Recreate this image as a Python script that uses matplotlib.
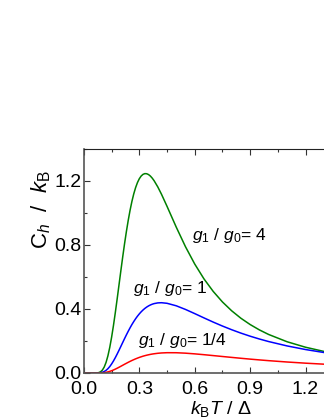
import matplotlib
matplotlib.use("Agg")
import matplotlib.pyplot as plt
from matplotlib.ticker import MultipleLocator

plt.rcParams['font.family'] = ['Liberation Sans', 'DejaVu Sans']
plt.rcParams['mathtext.fontset'] = 'custom'
plt.rcParams['mathtext.rm'] = 'Liberation Sans'
plt.rcParams['mathtext.it'] = 'Liberation Sans:italic'

# k_B T / Delta
temp = [0.0, 0.03, 0.05, 0.07, 0.08, 0.09, 0.10, 0.11, 0.12, 0.13, 0.14, 0.15,
        0.16, 0.17, 0.18, 0.19, 0.20, 0.21, 0.22, 0.23, 0.24, 0.25, 0.26, 0.27,
        0.28, 0.29, 0.30, 0.31, 0.32, 0.33, 0.34, 0.35, 0.36, 0.37, 0.38, 0.40,
        0.42, 0.45, 0.50, 0.55, 0.60, 0.65, 0.70, 0.75, 0.80, 0.85, 0.90, 0.95,
        1.00, 1.10, 1.20, 1.30]

# C_h / k_B for g1/g0 = 4
c_ratio4 = [0.0, 0.0, 0.0, 0.0005, 0.0023, 0.0074, 0.0182, 0.0373, 0.0667, 0.1076,
            0.1603, 0.2240, 0.2970, 0.3774, 0.4627, 0.5508, 0.6389, 0.7250, 0.8076,
            0.8842, 0.9546, 1.0176, 1.0730, 1.1200, 1.1591, 1.1904, 1.2143, 1.2311,
            1.2415, 1.2461, 1.2454, 1.2401, 1.2307, 1.2178, 1.2019, 1.1630, 1.1173,
            1.0417, 0.9115, 0.7891, 0.6810, 0.5883, 0.5100, 0.4441, 0.3888, 0.3422,
            0.3029, 0.2694, 0.2409, 0.1953, 0.1610, 0.1347]

# g1/g0 = 1
c_ratio1 = [0.0, 0.0, 0.0, 0.0001, 0.0006, 0.0018, 0.0045, 0.0093, 0.0167, 0.0270,
            0.0403, 0.0565, 0.0751, 0.0959, 0.1184, 0.1420, 0.1662, 0.1906, 0.2148,
            0.2383, 0.2610, 0.2826, 0.3030, 0.3218, 0.3393, 0.3552, 0.3695, 0.3824,
            0.3937, 0.4036, 0.4121, 0.4193, 0.4252, 0.4300, 0.4337, 0.4381, 0.4392,
            0.4356, 0.4200, 0.3972, 0.3712, 0.3444, 0.3182, 0.2935, 0.2705, 0.2493,
            0.2300, 0.2125, 0.1966, 0.1692, 0.1466, 0.1280]

# g1/g0 = 1/4
c_ratio14 = [0.0, 0.0, 0.0, 0.0, 0.0001, 0.0005, 0.0011, 0.0023, 0.0042, 0.0068,
             0.0101, 0.0141, 0.0189, 0.0241, 0.0298, 0.0358, 0.0420, 0.0483, 0.0546,
             0.0607, 0.0668, 0.0726, 0.0782, 0.0834, 0.0884, 0.0930, 0.0974, 0.1013,
             0.1050, 0.1083, 0.1112, 0.1139, 0.1163, 0.1184, 0.1202, 0.1232, 0.1252,
             0.1268, 0.1266, 0.1239, 0.1196, 0.1144, 0.1088, 0.1031, 0.0975, 0.0920,
             0.0867, 0.0818, 0.0771, 0.0687, 0.0614, 0.0551]

fig = plt.figure(figsize=(3.24, 4.19), dpi=100)
ax = fig.add_axes([0.259, 0.1098, 0.741, 0.5346])

ax.plot(temp, c_ratio4, color='#008000', lw=1.1)
ax.plot(temp, c_ratio1, color='#0000ff', lw=1.1)
ax.plot(temp, c_ratio14, color='#ff0000', lw=1.1)

ax.set_xlim(0, 1.3)
ax.set_ylim(0, 1.4)
ax.xaxis.set_major_locator(MultipleLocator(0.3))
ax.xaxis.set_minor_locator(MultipleLocator(0.15))
ax.yaxis.set_major_locator(MultipleLocator(0.4))
ax.yaxis.set_minor_locator(MultipleLocator(0.2))
ax.xaxis.set_major_formatter(plt.FormatStrFormatter('%.1f'))
ax.yaxis.set_major_formatter(plt.FormatStrFormatter('%.1f'))

ax.tick_params(which='both', direction='in', top=True, right=False,
               labelsize=14, color='#333333')
ax.tick_params(axis='x', pad=6)
ax.tick_params(axis='y', pad=2)
ax.tick_params(which='major', length=4, width=0.8)
ax.tick_params(which='minor', length=2.5, width=0.8)

for side in ['left', 'bottom']:
    ax.spines[side].set_color('#555555')
    ax.spines[side].set_linewidth(1.2)
ax.spines['top'].set_color('#222222')
ax.spines['right'].set_visible(False)

ax.set_xlabel(r'$k_\mathrm{B}T$ / $\Delta$', fontsize=14)
ax.xaxis.set_label_coords(0.57, -0.115)
ax.set_ylabel(r'$\mathrm{C}_h$  /  $k_\mathrm{B}$', fontsize=16)
ax.yaxis.set_label_coords(-0.13, 0.73)

ax.text(0.585, 0.86, r'$g_1$ / $g_0$= 4', fontsize=12.5, va='center')
ax.text(0.265, 0.53, r'$g_1$ / $g_0$= 1', fontsize=12.5, va='center')
ax.text(0.292, 0.205, r'$g_1$ / $g_0$= 1/4', fontsize=12.5, va='center')

fig.savefig('out.png', dpi=100)
